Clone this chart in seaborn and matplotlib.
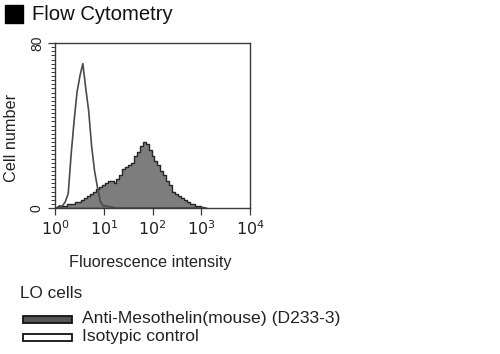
import numpy as np
import pandas as pd
import seaborn as sns
import matplotlib
matplotlib.use("Agg")
import matplotlib.pyplot as plt
from matplotlib.patches import Rectangle
from matplotlib.ticker import LogLocator, NullFormatter, FixedLocator, MultipleLocator

# ---- data (log10 fluorescence bin centres, counts) ----
bin_width = 0.06
log_centres = [round(0.03 + 0.06 * i, 2) for i in range(52)]
anti_counts = [0, 1, 1, 1, 2, 2, 2, 3, 3, 4,
               5, 6, 7, 8, 9, 10, 11, 12, 13, 13,
               12, 14, 16, 19, 20, 21, 22, 25, 27, 30,
               32, 31, 28, 25, 23, 21, 18, 16, 13, 11,
               8, 7, 6, 5, 4, 3, 2, 2, 1, 1,
               0.5, 0]
iso_counts = [0, 1, 1, 3, 7, 26, 42, 56, 64, 70,
              58, 47, 30, 18, 10, 3, 1, 1, 0.5, 0.5,
              0, 0, 0, 0, 0, 0, 0, 0, 0, 0,
              0, 0, 0, 0, 0, 0, 0, 0, 0, 0,
              0, 0, 0, 0, 0, 0, 0, 0, 0, 0,
              0, 0]
x_ticks = [1, 10, 100, 1000, 10000]
x_tick_labels = [r"$10^{0}$", r"$10^{1}$", r"$10^{2}$", r"$10^{3}$", r"$10^{4}$"]
y_ticks = [0, 80]
y_tick_labels = ["0", "80"]
legend_labels = ["Anti-Mesothelin(mouse) (D233-3)", "Isotypic control"]

sns.set_style("white")
plt.rcParams["font.family"] = ["Liberation Sans", "DejaVu Sans"]

W, H = 500, 354
fig = plt.figure(figsize=(W / 100, H / 100), dpi=100)

def px(x, y):
    return x / W, 1 - y / H

l, t = px(55, 43)
r, b = px(250, 208)
ax = fig.add_axes([l, b, r - l, t - b])

df = pd.DataFrame({
    "x": np.power(10.0, log_centres),
    "anti": anti_counts,
    "iso": iso_counts,
})

sns.histplot(data=df, x="x", weights="anti", log_scale=True,
             binwidth=bin_width, binrange=(0, 52 * bin_width), element="step",
             fill=True, color="#7d7d7d", alpha=1.0, edgecolor="#262626",
             linewidth=1.0, ax=ax)
sns.histplot(data=df, x="x", weights="iso", log_scale=True,
             binwidth=bin_width, binrange=(0, 52 * bin_width), element="poly",
             fill=False, color="#4a4a4a", linewidth=1.2, ax=ax)

ax.set_xlim(1, 10000)
ax.set_ylim(0, 80)
ax.set_xlabel("")
ax.set_ylabel("")

ax.xaxis.set_major_locator(FixedLocator(x_ticks))
ax.set_xticklabels(x_tick_labels)
ax.xaxis.set_minor_locator(LogLocator(base=10, subs=np.arange(2, 10)))
ax.xaxis.set_minor_formatter(NullFormatter())

ax.yaxis.set_major_locator(FixedLocator(y_ticks))
ax.set_yticklabels(y_tick_labels, rotation=90, va="center")
ax.yaxis.set_minor_locator(MultipleLocator(2))

for s in ax.spines.values():
    s.set_color("#3a3a3a")
    s.set_linewidth(1.0)
ax.tick_params(axis="both", which="major", direction="out", length=5,
               width=0.9, color="#3a3a3a", labelsize=11.5, labelcolor="#222222",
               bottom=True, left=True, pad=3)
ax.tick_params(axis="both", which="minor", direction="out", length=3,
               width=0.7, color="#3a3a3a", bottom=True, left=True)
ax.tick_params(axis="y", which="major", labelsize=10)

# Axis labels
fig.text(*px(150, 262), "Fluorescence intensity", ha="center", va="center",
         fontsize=11.7, color="#222222")
fig.text(*px(12, 138), "Cell number", ha="center", va="center", rotation=90,
         fontsize=11.7, color="#222222")

# Title with black square
x0, y0 = px(5, 23)
fig.add_artist(Rectangle((x0, y0), 18 / W, 18 / H, transform=fig.transFigure,
                         facecolor="black", edgecolor="black"))
fig.text(*px(32, 14), "Flow Cytometry", ha="left", va="center",
         fontsize=14.6, color="#111111")

# Legend block
fig.text(*px(20, 294), "LO cells", ha="left", va="center", fontsize=12.3,
         color="#222222")
fills = ["#555555", "white"]
rows = [319, 337]
for lab, fc, yy in zip(legend_labels, fills, rows):
    rx, ry = px(23, yy + 3.5)
    fig.add_artist(Rectangle((rx, ry), 49 / W, 7 / H, transform=fig.transFigure,
                             facecolor=fc, edgecolor="#111111", linewidth=1.3))
    fig.text(*px(82, yy), lab, ha="left", va="center", fontsize=12.6,
             color="#222222")

fig.savefig("out.png", dpi=100)
